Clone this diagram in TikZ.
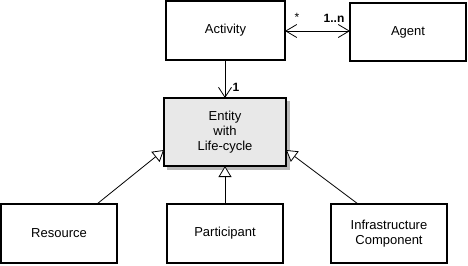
\documentclass[tikz,border=0pt]{standalone}
\usepackage{fontspec}
\setmainfont{Liberation Sans}
\usetikzlibrary{arrows.meta}
\begin{document}
\begin{tikzpicture}[x=1pt,y=-1pt,
  box/.style={draw=black,line width=2pt,fill=white,align=center,
    font=\fontsize{13}{15}\selectfont},
  edge/.style={draw=black,line width=0.8pt},
  assoc/.style={edge,-{Straight Barb[length=10pt,width=13pt]}},
  both/.style={edge,{Straight Barb[length=11pt,width=13pt]}-{Straight Barb[length=11pt,width=13pt]}},
  inherit/.style={edge,-{Triangle[open,length=11pt,width=13pt,fill=white]}},
  mult/.style={font=\fontsize{12}{14}\selectfont\bfseries},
  star/.style={font=\fontsize{12}{14}\selectfont}]
\useasboundingbox (0,0) rectangle (468,265);
% classes
\draw[box] (166,1) rectangle (285,60) node[pos=.5] (act) {Activity};
\coordinate (actS) at (225,60);
\coordinate (actE) at (285,31);
\draw[box] (350,3) rectangle (466,61) node[pos=.5] (agent) {Agent};
\coordinate (agentW) at (350,31);
% shadowed central class
\fill[gray!55] (167,101) rectangle (290,170);
\draw[box,fill=gray!18] (164,98) rectangle (286,166) node[pos=.5] (ent) {Entity\\with\\Life-cycle};
\coordinate (entN) at (225,98);
\coordinate (entS) at (225,166);
\coordinate (entW) at (164,150);
\coordinate (entE) at (286,150);
\draw[box] (1,204) rectangle (117,263) node[pos=.5] (res) {Resource};
\coordinate (resN) at (97,204);
\draw[box] (167,204) rectangle (283,263) node[pos=.5] (part) {Participant};
\coordinate (partN) at (225,204);
\draw[box] (331,204) rectangle (447,263) node[pos=.5] (infra) {Infrastructure\\Component};
\coordinate (infraN) at (358,204);
% associations
\draw[assoc] (actS) -- (entN);
\node[mult] (one) at (236,87) {1};
\draw[both] (actE) -- (agentW);
\node[star] (many) at (297,17) {*};
\node[mult] (range) at (334,18) {1..n};
% generalisations
\draw[inherit] (resN) -- (entW);
\draw[inherit] (partN) -- (entS);
\draw[inherit] (infraN) -- (entE);
\end{tikzpicture}
\end{document}
